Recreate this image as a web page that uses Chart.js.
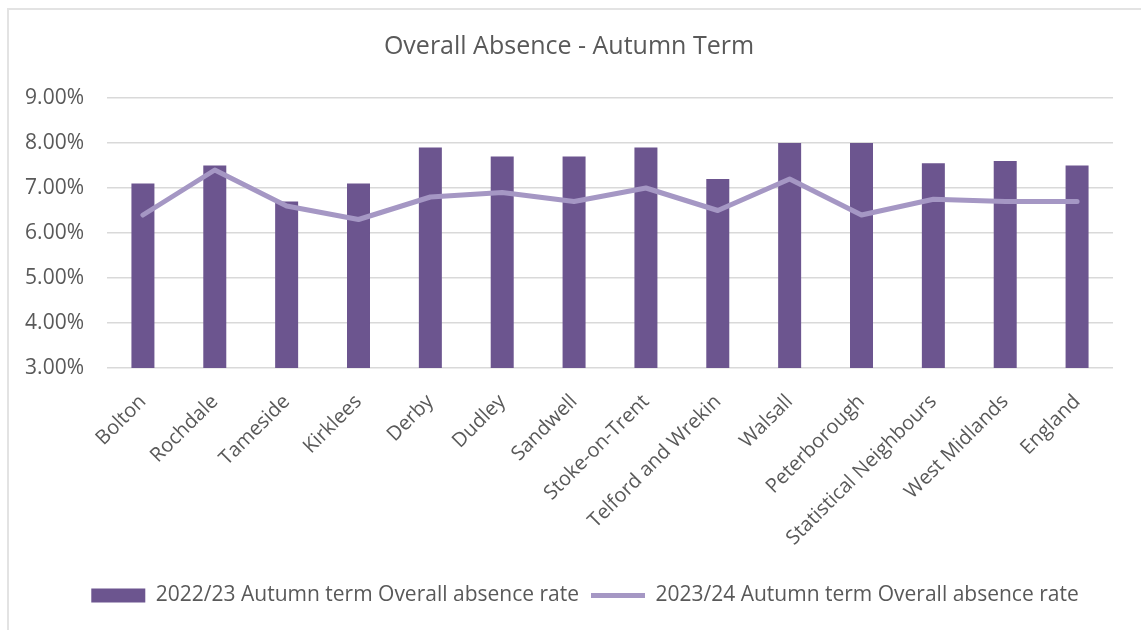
<!DOCTYPE html>
<html>
<head>
<meta charset="utf-8">
<script src="https://cdn.jsdelivr.net/npm/chart.js@4.4.1/dist/chart.umd.min.js"></script>
<style>
  html, body { margin: 0; padding: 0; background: #fff; overflow: hidden; }
  #frame {
    position: absolute; left: 7px; top: 8px; width: 1200px; height: 700px;
    border-left: 2px solid #e3e3e3; border-top: 2px solid #e3e3e3;
  }
  #wrap { position: absolute; left: 0; top: 0; width: 1141px; height: 630px; }
</style>
</head>
<body>
<div id="frame"></div>
<div id="wrap"><canvas id="absence-chart"></canvas></div>
<script>
const areas = ['Bolton', 'Rochdale', 'Tameside', 'Kirklees', 'Derby', 'Dudley', 'Sandwell',
    'Stoke-on-Trent', 'Telford and Wrekin', 'Walsall', 'Peterborough',
    'Statistical Neighbours', 'West Midlands', 'England'];
const autumn2223 = [7.1, 7.5, 6.7, 7.1, 7.9, 7.7, 7.7, 7.9, 7.2, 8.0, 8.0, 7.55, 7.6, 7.5];
const autumn2324 = [6.4, 7.4, 6.6, 6.3, 6.8, 6.9, 6.7, 7.0, 6.5, 7.2, 6.4, 6.75, 6.7, 6.7];
const yTicks = [3, 4, 5, 6, 7, 8, 9];

const textColour = '#595959';
const fontFamily = '"Open Sans", "DejaVu Sans", sans-serif';

// nudge the legend a bit to the right of the chart's centre line
const legendShift = {
    id: 'legendShift',
    afterLayout(chart) {
        const legend = chart.legend;
        if (legend) {
            legend.left += 16;
            legend.right += 16;
        }
    }
};

document.addEventListener('DOMContentLoaded', () => {
    const ctx = document.getElementById('absence-chart').getContext('2d');

    new Chart(ctx, {
        type: 'bar',
        data: {
            labels: areas,
            datasets: [
                {
                    type: 'bar',
                    label: '2022/23 Autumn term Overall absence rate',
                    data: autumn2223,
                    backgroundColor: '#6c558f',
                    borderWidth: 0,
                    barPercentage: 0.32,
                    categoryPercentage: 1,
                    pointStyle: 'rect',
                    order: 1
                },
                {
                    type: 'line',
                    label: '2023/24 Autumn term Overall absence rate',
                    data: autumn2324,
                    borderColor: '#a597c4',
                    backgroundColor: '#a597c4',
                    borderWidth: 5,
                    pointRadius: 0,
                    borderJoinStyle: 'round',
                    borderCapStyle: 'round',
                    tension: 0,
                    pointStyle: 'line',
                    order: 0
                }
            ]
        },
        options: {
            responsive: true,
            maintainAspectRatio: false,
            animation: false,
            layout: { padding: { left: 25, right: 28, top: 0, bottom: 14 } },
            plugins: {
                title: {
                    display: true,
                    text: 'Overall Absence - Autumn Term',
                    color: textColour,
                    font: { family: fontFamily, size: 25, weight: 'normal' },
                    padding: { top: 32, bottom: 36 }
                },
                legend: {
                    position: 'bottom',
                    labels: {
                        color: textColour,
                        font: { family: fontFamily, size: 21 },
                        usePointStyle: true,
                        pointStyleWidth: 54,
                        boxHeight: 14,
                        padding: 12,
                        sort: (a, b) => a.datasetIndex - b.datasetIndex
                    }
                },
                tooltip: { enabled: false }
            },
            scales: {
                x: {
                    grid: { display: false },
                    border: { display: false },
                    ticks: {
                        color: textColour,
                        font: { family: fontFamily, size: 20 },
                        autoSkip: false,
                        minRotation: 45,
                        maxRotation: 45,
                        padding: 14
                    },
                    afterFit: (scale) => {
                        scale.height = 205;
                        scale.paddingLeft = 0;
                    }
                },
                y: {
                    min: yTicks[0],
                    max: yTicks[yTicks.length - 1],
                    afterBuildTicks: (scale) => {
                        scale.ticks = yTicks.map(v => ({ value: v }));
                    },
                    afterFit: (scale) => { scale.width = 82; },
                    grid: { color: '#d9d9d9', lineWidth: 1.5, drawTicks: false },
                    border: { display: false },
                    ticks: {
                        color: textColour,
                        font: { family: fontFamily, size: 21 },
                        padding: 23,
                        callback: (v) => v.toFixed(2) + '%'
                    }
                }
            }
        },
        plugins: [legendShift]
    });
});
</script>
</body>
</html>
